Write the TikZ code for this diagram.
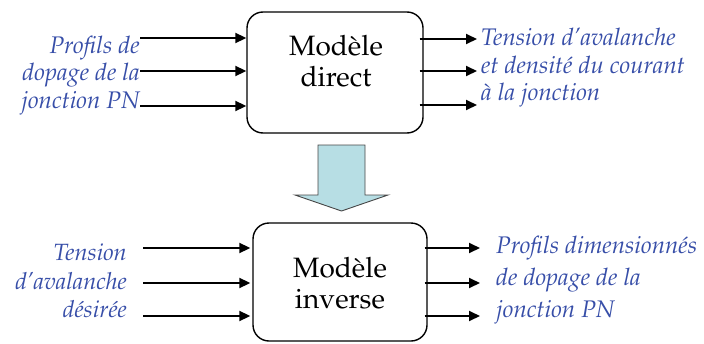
\documentclass[tikz,border=0pt]{standalone}
\usepackage[T1]{fontenc}
\usepackage{mathpazo}
\usetikzlibrary{arrows.meta}
\definecolor{lblue}{RGB}{55,78,168}
\definecolor{afill}{RGB}{183,222,228}
\definecolor{aline}{RGB}{70,70,70}
\tikzset{
  modbox/.style={draw=black, line width=1.4pt, rounded corners=16pt, inner sep=0pt},
  modtext/.style={inner sep=0pt, align=center, font=\fontsize{28}{30.5}\selectfont},
  lbl/.style={inner sep=0pt, text=lblue, font=\itshape\fontsize{24}{27.5}\selectfont},
  arr/.style={line width=1.9pt, -{Triangle[length=11pt,width=10pt]}},
}
\begin{document}
\begin{tikzpicture}[x=1pt,y=-1pt]
\useasboundingbox (0,0) rectangle (704,343);
% boxes
\node[modbox, minimum width=176pt, minimum height=121pt] (dm) at (335,72.5) {};
\node[modtext, anchor=north] (dmt) at (336,35.5) {Mod\`ele\\direct};
\node[modbox, minimum width=174pt, minimum height=118pt] (im) at (340,282) {};
\node[modtext, anchor=north] (imt) at (340,257.5) {Mod\`ele\\inverse};
% labels
\node[lbl, align=right, anchor=north east] (l1) at (140,35.5) {Profils de\\dopage de la\\jonction PN};
\node[lbl, align=left, anchor=north west] (r1) at (481,28) {Tension d'avalanche\\et densit\'e du courant\\\`a la jonction};
\node[lbl, align=right, anchor=north east, font=\itshape\fontsize{23.5}{28.5}\selectfont] (l2) at (127,243.5) {Tension\\d'avalanche\\d\'esir\'ee};
\node[lbl, align=left, anchor=north west, font=\itshape\fontsize{24}{32}\selectfont] (r2) at (496,235.5) {Profils dimensionn\'es\\de dopage de la\\jonction PN};
% arrow coordinates
\coordinate (a1) at (140,38);
\coordinate (a2) at (140,71);
\coordinate (a3) at (140,106);
\coordinate (b1) at (477,39);
\coordinate (b2) at (477,71);
\coordinate (b3) at (477,105);
\coordinate (c1) at (143,248);
\coordinate (c2) at (143,283);
\coordinate (c3) at (143,316);
\coordinate (d1) at (480,248);
\coordinate (d2) at (480,283);
\coordinate (d3) at (480,316);
\foreach \p in {a1,a2,a3} \draw[arr] (\p) -- (\p -| dm.west);
\foreach \p in {b1,b2,b3} \draw[arr] ([xshift=-4pt]dm.east |- \p) -- (\p);
\foreach \p in {c1,c2,c3} \draw[arr] (\p) -- ([xshift=-2pt]\p -| im.west);
\foreach \p in {d1,d2,d3} \draw[arr] ([xshift=-3pt]im.east |- \p) -- (\p);
% big arrow
\draw[fill=afill, draw=aline, line width=0.9pt, line join=miter]
  (318,145) -- (365,145) -- (365,195) -- (388,195) -- (341.5,211) -- (295,195) -- (318,195) -- cycle;
\end{tikzpicture}
\end{document}
